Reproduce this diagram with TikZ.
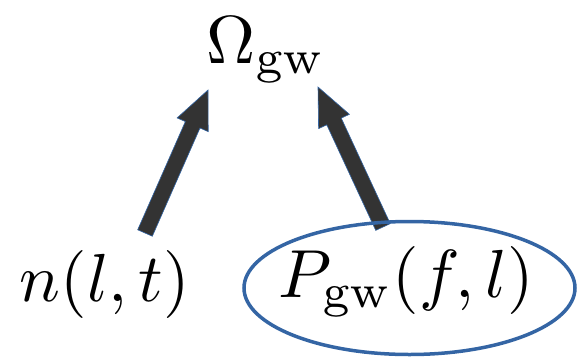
\documentclass[tikz,border=0pt]{standalone}
\usepackage{graphicx}
\usetikzlibrary{calc,shapes.geometric}
\definecolor{ellblue}{RGB}{52,101,164}
\definecolor{arrdark}{RGB}{51,51,51}
\tikzset{
  lbl/.style={inner sep=0pt, anchor=base},
  barrow/.style={fill=arrdark, draw=ellblue, line width=0.6pt, line join=miter},
  ringel/.style={draw=ellblue, line width=3.5pt, ellipse, minimum width=331pt, minimum height=133pt, inner sep=0pt}
}
\newcommand{\hugemath}[1]{\scalebox{6.8}{$#1$}}
\newcommand{\blockarrow}[2]{%
  \coordinate (H) at ($(#2)!38pt!(#1)$);
  \draw[barrow] ($(#1)!8pt!90:(#2)$) -- ($(H)!8pt!90:(#2)$) -- ($(H)!17pt!90:(#2)$) -- (#2)
    -- ($(H)!17pt!-90:(#2)$) -- ($(H)!8pt!-90:(#2)$) -- ($(#1)!8pt!-90:(#2)$) -- cycle;
}
\begin{document}
\begin{tikzpicture}[x=1pt,y=-1pt]
\useasboundingbox (0,0) rectangle (579,357);
\node[lbl] (omega) at (266,63) {\hugemath{\Omega_{\mathrm{gw}}}};
\node[lbl] (n) at (105,301) {\hugemath{n(l,t)}};
\node[lbl] (p) at (406.5,297) {\hugemath{P_{\mathrm{gw}}(f,l)}};
\coordinate (t1) at (145,233);
\coordinate (h1) at (208,90);
\coordinate (t2) at (383,227);
\coordinate (h2) at (318,87);
\blockarrow{t1}{h1}
\blockarrow{t2}{h2}
\node[ringel] (ell) at (409.5,288) {};
\end{tikzpicture}
\end{document}
